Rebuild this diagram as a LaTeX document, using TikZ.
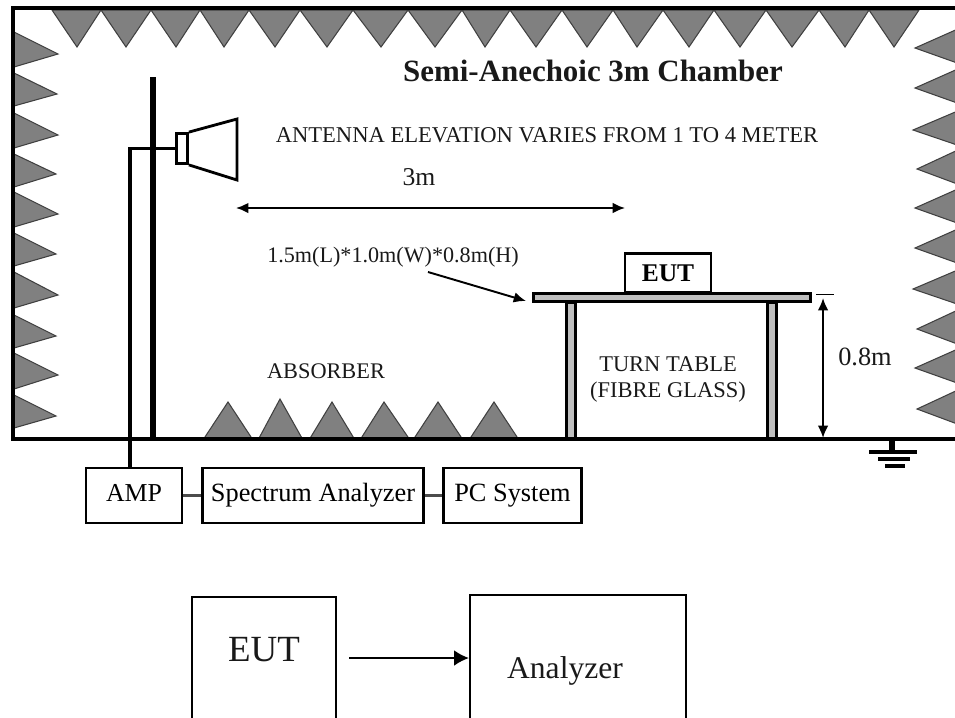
\documentclass[tikz,border=0pt]{standalone}
\usepackage{fontspec}
\setmainfont{Liberation Serif}
\usepackage{tikz}
\usetikzlibrary{positioning,arrows.meta}
\definecolor{wedge}{gray}{0.5}
\definecolor{glass}{gray}{0.75}
\definecolor{ink}{gray}{0.1}
\newcommand{\fs}[1]{\fontsize{#1}{#1}\selectfont}
\tikzset{
  absorber/.style={draw=black!75, line width=0.6pt, fill=wedge},
  wall/.style={line width=2.7pt},
  unitbox/.style={draw, line width=1.6pt, inner sep=0pt},
  instr/.style={unitbox, minimum height=55*0.02cm, text height=10pt, text depth=3.2pt},
  lab/.style={ink, inner sep=0pt, align=center},
  link/.style={line width=1.1pt},
}
\begin{document}
\begin{tikzpicture}[>={Latex[length=7pt,width=6pt]}, x=0.02cm, y=-0.02cm]
    \clip (0,0) rectangle (955,717);
    % top wedges
    \foreach \a/\m/\b in {52/77/101,101/126/151,151/176/200,200/224/249,249/275/300,300/327/353,353/381/408,408/435/462,462/485/510,510/536/562,562/587/613,613/637/663,663/689/714,714/740/766,766/792/819,819/845/869,869/894/919}
      \draw[absorber] (\a,10) -- (\m,47) -- (\b,10) -- cycle;
    % left wedges
    \foreach \a/\m/\t/\b in {32/54/58/67,73/94/57/106,113/135/58/148,154/174/56/187,192/214/58/227,233/254/56/266,272/295/58/308,315/336/56/348,353/375/58/389,395/416/56/428}
      \draw[absorber] (14,\a) -- (\t,\m) -- (14,\b) -- cycle;
    % right wedges
    \foreach \m/\t in {48/915,88/915,130/913,169/917,208/915,248/915,289/913,329/917,368/915,409/917}
      \draw[absorber] (960,\m-20) -- (\t,\m) -- (960,\m+16) -- cycle;
    % floor wedges
    \foreach \a/\m/\b/\t in {203/228/253/402,258/280/303/399,309/332/355/402,360/384/410/402,413/438/463/402,469/494/519/402}
      \draw[absorber] (\a,440) -- (\m,\t) -- (\b,440) -- cycle;
    % test table
    \node[unitbox, fill=glass, minimum width=9*0.02cm, minimum height=136*0.02cm, anchor=north] (legl) at (571,301) {};
    \node[unitbox, fill=glass, minimum width=9*0.02cm, minimum height=136*0.02cm, anchor=north] (legr) at (772,301) {};
    % chamber
    \draw[wall] (960,8) -- (13,8) -- (13,439) -- (960,439);
    \node[unitbox, fill=glass, minimum width=277*0.02cm, minimum height=8*0.02cm] (top) at (672,297.5) {};
    \node[unitbox, minimum width=86*0.02cm, minimum height=39*0.02cm, anchor=south, font=\fs{14.5}\bfseries] (eut) at (668,294) {EUT};
    \node[lab, font=\fs{12.8}] (turn) at (668,379) {TURN TABLE\\[2pt](FIBRE GLASS)};
    % antenna
    \coordinate (ampin) at (130,468);
    \node[unitbox, minimum width=11*0.02cm, minimum height=30*0.02cm] (feed) at (182,148.5) {};
    \draw[line width=2pt] (feed.west) -| (ampin);
    \draw[line width=3.6pt] (153,77) -- (153,439);
    \draw[line width=1.6pt] (feed.north east) -- (237,119) -- (237,180) -- (feed.south east);
    % labels
    \node[lab, font=\fs{17.6}\bfseries] (title) at (593,71) {Semi-Anechoic 3m Chamber};
    \node[lab, font=\fs{12.85}] (elev) at (547,135) {ANTENNA ELEVATION VARIES FROM 1 TO 4 METER};
    \node[lab, font=\fs{14.6}] (range) at (419,177) {3m};
    \node[lab, font=\fs{12.6}] (size) at (393,257) {1.5m(L)*1.0m(W)*0.8m(H)};
    \node[lab, font=\fs{12.7}] (abs) at (326,371) {ABSORBER};
    \node[lab, font=\fs{15}] (height) at (865,357) {0.8m};
    % dimensions
    \coordinate (rangel) at (236,208);
    \coordinate (ranger) at (625,208);
    \draw[<->, link] (rangel) -- (ranger);
    \coordinate (sizefrom) at (428,272);
    \coordinate (sizeto) at (526,301);
    \draw[->, link] (sizefrom) -- (sizeto);
    \coordinate (htop) at (823,298);
    \coordinate (hbot) at (823,438);
    \draw[<->, link] (htop) -- (hbot);
    \coordinate (ticka) at (816,294);
    \coordinate (tickb) at (834,294);
    \draw[line width=0.5pt] (ticka) -- (tickb);
    % ground
    \coordinate (gnd) at (892,452);
    \draw[line width=3pt] (892,439) -- (gnd);
    \draw[line width=2.4pt] (869,452) -- (917,452);
    \draw[line width=2.4pt] (878,459) -- (910,459);
    \draw[line width=2.4pt] (885,466) -- (905,466);
    % instruments
    \node[instr, minimum width=96*0.02cm, font=\fs{14.7}] (amp) at (134,495.5) {AMP};
    \node[instr, minimum width=221*0.02cm, font=\fs{15}] (spec) at (313,495.5) {Spectrum Analyzer};
    \node[instr, minimum width=138*0.02cm, font=\fs{15}] (pc) at (512.5,495.5) {PC System};
    \draw[link, line width=1.3pt, black!70] (amp) -- (spec);
    \draw[link, line width=1.3pt, black!70] (spec) -- (pc);
    % block diagram
    \node[unitbox, line width=1.2pt, minimum width=144*0.02cm, minimum height=140*0.02cm, anchor=north] (eutblock) at (264,596) {};
    \node[unitbox, line width=1.2pt, minimum width=216*0.02cm, minimum height=140*0.02cm, anchor=north] (anablock) at (578,594) {};
    \node[lab, font=\fs{21}] (euttext) at (264,650) {EUT};
    \node[lab, font=\fs{18}] (anatext) at (565,671) {Analyzer};
    \coordinate (eutout) at (349,658);
    \draw[-{Latex[length=8.5pt,width=9pt]}, link] (eutout) -- (eutout -| anablock.west);
\end{tikzpicture}
\end{document}
